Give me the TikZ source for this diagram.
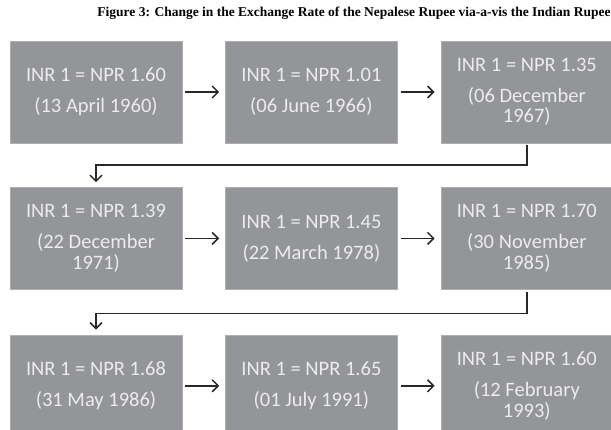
\documentclass[tikz,border=0pt]{standalone}
\usepackage{fontspec}
\setmainfont{Carlito}
\newfontfamily\captionserif{Liberation Serif}
\usetikzlibrary{positioning,arrows.meta}
\definecolor{boxgray}{RGB}{148,149,152}
\definecolor{boxtext}{RGB}{236,236,238}
\definecolor{linegray}{RGB}{40,40,40}

\begin{document}
\begin{tikzpicture}[x=1pt, y=-1pt, ratebox/.style={rectangle, fill=boxgray, draw=boxgray!75!white, text=boxtext, minimum width=172pt, minimum height=102pt, inner sep=0pt, align=center, font=\fontsize{20.5}{20.5}\selectfont}, flow/.style={draw=linegray, line width=1.5pt, -{Straight Barb[length=6pt,width=12pt]}}]
	\useasboundingbox (0,0) rectangle (611,430);
	\node[font=\captionserif\bfseries\fontsize{13.5}{13.5}\selectfont] (title) at (354,13) {Figure 3: Change in the Exchange Rate of the Nepalese Rupee via-a-vis the Indian Rupee};
	% first row
	\node[ratebox] (y1960) at (96,92) {INR 1 = NPR 1.60\\[10.5pt](13 April 1960)};
	\node[ratebox] (y1966) [right=43pt of y1960] {INR 1 = NPR 1.01\\[10.5pt](06 June 1966)};
	\node[ratebox] (y1967) [right=43pt of y1966] {INR 1 = NPR 1.35\\[10.5pt](06 December\\1967)};
	% second row
	\node[ratebox] (y1971) [below=44pt of y1960] {INR 1 = NPR 1.39\\[10.5pt](22 December\\1971)};
	\node[ratebox] (y1978) [right=43pt of y1971] {INR 1 = NPR 1.45\\[10.5pt](22 March 1978)};
	\node[ratebox] (y1985) [right=43pt of y1978] {INR 1 = NPR 1.70\\[10.5pt](30 November\\1985)};
	% third row
	\node[ratebox] (y1986) [below=45pt of y1971] {INR 1 = NPR 1.68\\[10.5pt](31 May 1986)};
	\node[ratebox] (y1991) [right=43pt of y1986] {INR 1 = NPR 1.65\\[10.5pt](01 July 1991)};
	\node[ratebox] (y1993) [right=43pt of y1991] {INR 1 = NPR 1.60\\[10.5pt](12 February\\1993)};
	\draw[flow, shorten <=3pt, shorten >=6pt] (y1960) -- (y1966);
	\draw[flow, shorten <=3pt, shorten >=6pt] (y1966) -- (y1967);
	\draw[flow, shorten <=3pt, shorten >=6pt] (y1971) -- (y1978);
	\draw[flow, shorten <=3pt, shorten >=6pt] (y1978) -- (y1985);
	\draw[flow, shorten <=3pt, shorten >=6pt] (y1986) -- (y1991);
	\draw[flow, shorten <=3pt, shorten >=6pt] (y1991) -- (y1993);
	\draw[flow, shorten <=2pt, shorten >=5pt] (y1967.south) -- ++(0,22) -| (y1971.north);
	\draw[flow, shorten <=2pt, shorten >=5pt] (y1985.south) -- ++(0,24) -| (y1986.north);
\end{tikzpicture}
\end{document}
